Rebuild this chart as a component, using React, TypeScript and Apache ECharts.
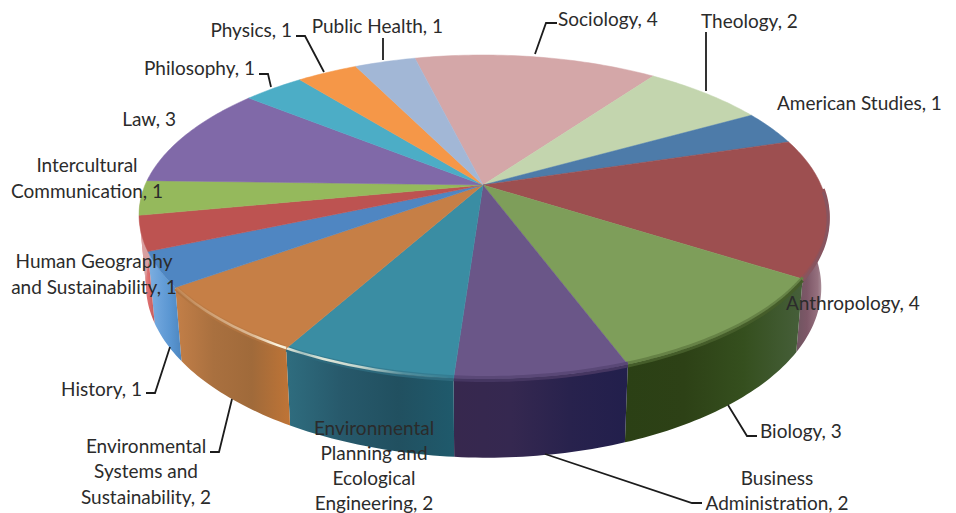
import React, { useEffect, useRef } from "react";
import * as echarts from "echarts";

// Disciplines clockwise, starting from the slice at the far side of the disc.
const categories = [
  "Sociology", "Theology", "American Studies", "Anthropology", "Biology",
  "Business Administration", "Environmental Planning and Ecological Engineering",
  "Environmental Systems and Sustainability", "History",
  "Human Geography and Sustainability", "Intercultural Communication", "Law",
  "Philosophy", "Physics", "Public Health",
];
const counts = [4, 2, 1, 4, 3, 2, 2, 2, 1, 1, 1, 3, 1, 1, 1];

const topColors = [
  "#d4a7a8", "#c3d5ae", "#4d7ba9", "#9d4f50", "#7e9e5a", "#6a5688", "#3a8da3",
  "#c67f46", "#4f86c2", "#bd5351", "#95b95c", "#8069a8", "#4cadc6", "#f59748", "#a2b7d6",
];

// Left-to-right shading of the outer wall, for the slices facing the viewer.
const wallShades: Record<number, string[]> = {
  3: ["#6f5560", "#7d5767", "#95707e", "#cbbfc3"],
  4: ["#2b4015", "#2d4116", "#354f1e", "#465f3a"],
  5: ["#37284e", "#352850", "#28224d", "#221f4c"],
  6: ["#2f6d7f", "#27596b", "#215060", "#1f5a6c"],
  7: ["#c37f48", "#a9703f", "#a06a3a", "#bf7436"],
  8: ["#7fb0e0", "#6ba2da", "#5a96d2", "#4d86bf"],
  9: ["#f0a0a0", "#ea8383", "#d86a6a", "#c45b5b"],
  10: ["#d9a0a0", "#d9a0a0", "#d9a0a0", "#d9a0a0"],
};

// Opacity of the rim's specular glint, left to right across a slice.
const rimGlints: Record<number, [number, number][]> = {
  7: [[0, 0.1], [0.4, 0.35], [0.7, 0.5], [0.92, 0.95], [1, 0.9]],
  6: [[0, 0.9], [0.1, 0.55], [0.22, 0.85], [0.45, 0.7], [0.7, 0.15], [1, 0]],
};

const labelLines = [
  ["Sociology, 4"], ["Theology, 2"], ["American Studies, 1"], ["Anthropology, 4"],
  ["Biology, 3"], ["Business", "Administration, 2"],
  ["Environmental", "Planning and", "Ecological", "Engineering, 2"],
  ["Environmental", "Systems and", "Sustainability, 2"], ["History, 1"],
  ["Human Geography", "and Sustainability, 1"], ["Intercultural", "Communication, 1"],
  ["Law, 3"], ["Philosophy, 1"], ["Physics, 1"], ["Public Health, 1"],
];
// Anchor x, first line's middle y, and alignment of each label block.
const labelSpots: [number, number, string][] = [
  [558, 18, "left"], [701, 20, "left"], [777, 102, "left"], [786, 302, "left"],
  [760, 430, "left"], [777, 477, "center"], [374, 427, "center"], [146, 445, "center"],
  [142, 388, "right"], [94, 260, "center"], [87, 164, "center"], [176, 118, "right"],
  [255, 67, "right"], [292, 29, "right"], [443, 25, "right"],
];
const lineGap = [0, 0, 0, 0, 0, 25, 25, 25.5, 0, 26, 26, 0, 0, 0, 0];

const leaderLines = [
  [[535, 54], [546, 23], [557, 23]],
  [[706, 91], [706, 32]],
  [[728, 405], [747, 436], [757, 436]],
  [[545, 454], [692, 503], [702, 503]],
  [[232, 399], [219, 452], [210, 452]],
  [[170, 347], [155, 393], [146, 393]],
  [[271, 87], [268, 74], [259, 74]],
  [[324, 72], [305, 36], [296, 36]],
  [[383, 60], [383, 38]],
];

// Perspective of the tilted disc: apex, half-axes, foreshortening and skew.
const APEX = { x: 483, y: 185 };
const AXIS_X = 338;
const AXIS_Y = 155.7;
const TILT = 0.1975;
const SKEW_LEFT = 0.027;
const SKEW_RIGHT = 0.012;
const START_DEG = -13.9;
const total = counts.reduce((a, b) => a + b, 0);

const sliceRange = (i: number): [number, number] => {
  let sum = 0;
  for (let k = 0; k < i; k++) sum += counts[k];
  const step = 360 / total;
  return [START_DEG + sum * step, START_DEG + (sum + counts[i]) * step];
};

const topPoint = (deg: number): [number, number] => {
  const r = (deg * Math.PI) / 180;
  const w = 1 + TILT * Math.cos(r);
  const y = APEX.y - (AXIS_Y * Math.cos(r)) / w;
  const dx = (AXIS_X * Math.sin(r)) / w;
  const lean = Math.max(0, y - APEX.y) * (dx < 0 ? SKEW_LEFT : SKEW_RIGHT);
  return [APEX.x + dx + lean, y];
};
const basePoint = (deg: number): [number, number] => {
  const [x, y] = topPoint(deg);
  return [APEX.x + (x - APEX.x) * 0.98, 253 + 1.055 * (y - APEX.y)];
};
const arc = (from: number, to: number, at: (d: number) => [number, number]) => {
  const pts: [number, number][] = [];
  const n = Math.max(2, Math.ceil(Math.abs(to - from)));
  for (let k = 0; k <= n; k++) pts.push(at(from + ((to - from) * k) / n));
  return pts;
};
const mix = (a: string, b: string, t: number) => {
  const p = (s: string, o: number) => parseInt(s.slice(o, o + 2), 16);
  const c = [1, 3, 5].map((o) => Math.round(p(a, o) * (1 - t) + p(b, o) * t));
  return `rgb(${c[0]},${c[1]},${c[2]})`;
};

const renderWall = (params: any) => {
  const i = params.dataIndex;
  const shades = wallShades[i];
  if (!shades) return { type: "group", children: [] };
  const [a, b] = sliceRange(i);
  const from = Math.max(a, 92);
  const to = Math.min(b, 268);
  const pts = [...arc(from, to, topPoint), ...arc(to, from, basePoint)];
  return {
    type: "polygon",
    shape: { points: pts },
    style: {
      fill: new echarts.graphic.LinearGradient(0, 0, 1, 0,
        shades.map((color, k) => ({ offset: k / (shades.length - 1), color }))),
    },
  };
};

const renderTop = (params: any) => {
  const i = params.dataIndex;
  const [a, b] = sliceRange(i);
  const fill = topColors[i];
  const children: any[] = [{
    type: "polygon",
    shape: { points: [[APEX.x, APEX.y], ...arc(a, b, topPoint)] },
    style: { fill, stroke: fill, lineWidth: 0.5 },
  }];
  const shades = wallShades[i];
  if (shades && i < 8) {
    // Rounded edge between the top face and the wall.
    const from = Math.max(a, 92);
    const to = Math.min(b, 268);
    const edge = shades[1];
    children.push({
      type: "polyline",
      shape: { points: arc(from, to, (d) => { const [x, y] = topPoint(d); return [x, y - 1.5]; }) },
      style: { fill: "none", stroke: mix(fill, edge, 0.3), lineWidth: 3 },
    });
    children.push({
      type: "polyline",
      shape: { points: arc(from, to, (d) => { const [x, y] = topPoint(d); return [x, y + 1.5]; }) },
      style: { fill: "none", stroke: mix(fill, edge, 0.7), lineWidth: 3 },
    });
    const glint = rimGlints[i];
    if (glint) {
      children.push({
        type: "polyline",
        shape: { points: arc(from, to, (d) => { const [x, y] = topPoint(d); return [x, y - 0.5]; }) },
        style: {
          fill: "none",
          lineWidth: 2.5,
          stroke: new echarts.graphic.LinearGradient(0, 0, 1, 0,
            glint.map(([offset, alpha]) => ({ offset, color: `rgba(255,250,230,${alpha})` }))),
        },
      });
    }
  }
  return { type: "group", children };
};

const TEXT_FONT = '19px Lato, "Open Sans", sans-serif';

const graphics = () => {
  const items: any[] = [];
  leaderLines.forEach((points) => items.push({
    type: "polyline",
    z: 20,
    shape: { points },
    style: { fill: "none", stroke: "#1c1c1c", lineWidth: 1.8 },
  }));
  labelLines.forEach((lines, i) => {
    const [x, y, align] = labelSpots[i];
    lines.forEach((text, k) => items.push({
      type: "text",
      z: 21,
      x,
      y: y + k * lineGap[i],
      style: { text, font: TEXT_FONT, fill: "#2b2b2b", textAlign: align, textVerticalAlign: "middle" },
    }));
  });
  return items;
};

export default function App() {
  const ref = useRef<HTMLDivElement>(null);
  useEffect(() => {
    if (!ref.current) return;
    const chart = echarts.init(ref.current, undefined, { renderer: "svg" });
    const data = counts.map((value, i) => ({ name: categories[i], value }));
    chart.setOption({
      animation: false,
      backgroundColor: "#ffffff",
      graphic: graphics(),
      series: [
        { type: "custom", coordinateSystem: "none", z: 1, data, renderItem: renderWall },
        { type: "custom", coordinateSystem: "none", z: 2, data, renderItem: renderTop },
      ],
    });
    return () => chart.dispose();
  }, []);
  return (
    <div ref={ref} style={{ position: "absolute", left: 0, top: 0, width: 956, height: 513 }} />
  );
}
